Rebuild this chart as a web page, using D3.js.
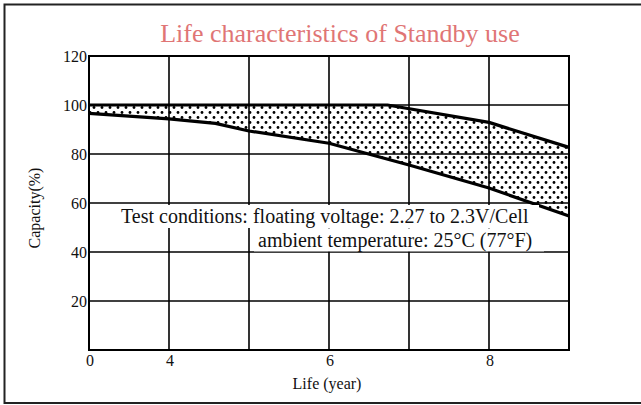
<!DOCTYPE html>
<html>
<head>
<meta charset="utf-8">
<script src="https://cdn.jsdelivr.net/npm/d3@7"></script>
<style>
  html, body { margin: 0; padding: 0; background: #fff; }
  svg { display: block; }
  text { font-family: "Liberation Serif", "Times New Roman", serif; fill: #111; }
</style>
</head>
<body>
<svg id="chart" width="641" height="405"></svg>
<script>
// ---- data ----
const titleText = "Life characteristics of Standby use";
const xTickValues = [0, 1, 2, 3, 4, 5, 6];              // grid columns
const xTickLabels = ["0", "4", "", "6", "", "8", ""];   // labels as printed
const yTickValues = [0, 20, 40, 60, 80, 100, 120];
const yTickLabels = ["", "20", "40", "60", "80", "100", "120"];
// upper boundary of capacity band (x in grid columns, capacity %)
const upperX = [0, 1, 2, 3, 3.73, 5, 6];
const upperY = [100, 100, 100, 100, 100, 92.9, 82.7];
// lower boundary of capacity band
const lowerX = [0, 1, 1.58, 2, 3, 4, 5, 6];
const lowerY = [96.6, 94.3, 92.5, 89.4, 84.4, 75.5, 66.1, 54.7];
const noteLines = [
  "Test conditions: floating voltage: 2.27 to 2.3V/Cell",
  "ambient temperature: 25°C (77°F)"
];
const xAxisTitle = "Life (year)";
const yAxisTitle = "Capacity(%)";

// ---- layout ----
const svg = d3.select("#chart");
const L = 89, R = 569, T = 56, B = 350;
const x = d3.scaleLinear().domain([0, 6]).range([L, R]);
const y = d3.scaleLinear().domain([0, 120]).range([B, T]);

// outer frame
svg.append("rect").attr("x", 4.5).attr("y", 4.5).attr("width", 700).attr("height", 398.5)
  .attr("fill", "none").attr("stroke", "#222").attr("stroke-width", 2);

// stipple pattern
const defs = svg.append("defs");
const pat = defs.append("pattern").attr("id", "dots").attr("patternUnits", "userSpaceOnUse")
  .attr("width", 8).attr("height", 10);
pat.append("circle").attr("cx", 2).attr("cy", 2.5).attr("r", 1.4).attr("fill", "#000");
pat.append("circle").attr("cx", 6).attr("cy", 7.5).attr("r", 1.4).attr("fill", "#000");

// band area
const upper = upperX.map((v, i) => [v, upperY[i]]);
const lower = lowerX.map((v, i) => [v, lowerY[i]]);
const poly = upper.concat(lower.slice().reverse());
svg.append("path")
  .attr("d", "M" + poly.map(p => x(p[0]) + "," + y(p[1])).join("L") + "Z")
  .attr("fill", "url(#dots)");

// grid
const g = svg.append("g");
g.selectAll(".vg").data(xTickValues).join("line")
  .attr("x1", d => x(d)).attr("x2", d => x(d)).attr("y1", T).attr("y2", B)
  .attr("stroke", "#000").attr("stroke-width", 1.6);
g.selectAll(".hg").data(yTickValues).join("line")
  .attr("x1", L).attr("x2", R).attr("y1", d => y(d)).attr("y2", d => y(d))
  .attr("stroke", "#000").attr("stroke-width", 1.6);
svg.append("rect").attr("x", L).attr("y", T).attr("width", R - L).attr("height", B - T)
  .attr("fill", "none").attr("stroke", "#000").attr("stroke-width", 2);

// boundary lines
const line = d3.line().x(d => x(d[0])).y(d => y(d[1]));
[upper, lower].forEach(data => {
  svg.append("path").attr("d", line(data)).attr("fill", "none")
    .attr("stroke", "#000").attr("stroke-width", 3.2).attr("stroke-linejoin", "round");
});

// axes labels
svg.append("g").selectAll("text").data(yTickValues).join("text")
  .attr("x", L - 2).attr("y", d => y(d)).attr("dy", "0.35em")
  .attr("text-anchor", "end").attr("font-size", 16)
  .text((d, i) => yTickLabels[i]);
svg.append("g").selectAll("text").data(xTickValues).join("text")
  .attr("x", d => x(d) + 1).attr("y", 366)
  .attr("text-anchor", "middle").attr("font-size", 16)
  .text((d, i) => xTickLabels[i]);

svg.append("text").attr("x", 327).attr("y", 389).attr("text-anchor", "middle")
  .attr("font-size", 16).text(xAxisTitle);
svg.append("text").attr("transform", "translate(40,208) rotate(-90)")
  .attr("text-anchor", "middle").attr("font-size", 16).text(yAxisTitle);

// title
svg.append("text").attr("x", 340).attr("y", 42).attr("text-anchor", "middle")
  .attr("font-size", 26).style("fill", "#e07575").text(titleText);

// note with white backgrounds
const noteX = [121, 258];
const noteY = [223.3, 246.7];
const noteW = [414, 282];
const noteLayer = svg.append("g");
noteLines.forEach((t, i) => {
  noteLayer.append("rect").attr("fill", "#ffffff")
    .attr("x", noteX[i] - 4).attr("y", noteY[i] - 18.3)
    .attr("width", noteW[i] + 8).attr("height", 23);
});
noteLines.forEach((t, i) => {
  noteLayer.append("text").attr("x", noteX[i]).attr("y", noteY[i])
    .attr("font-size", 20).text(t);
});
</script>
</body>
</html>
